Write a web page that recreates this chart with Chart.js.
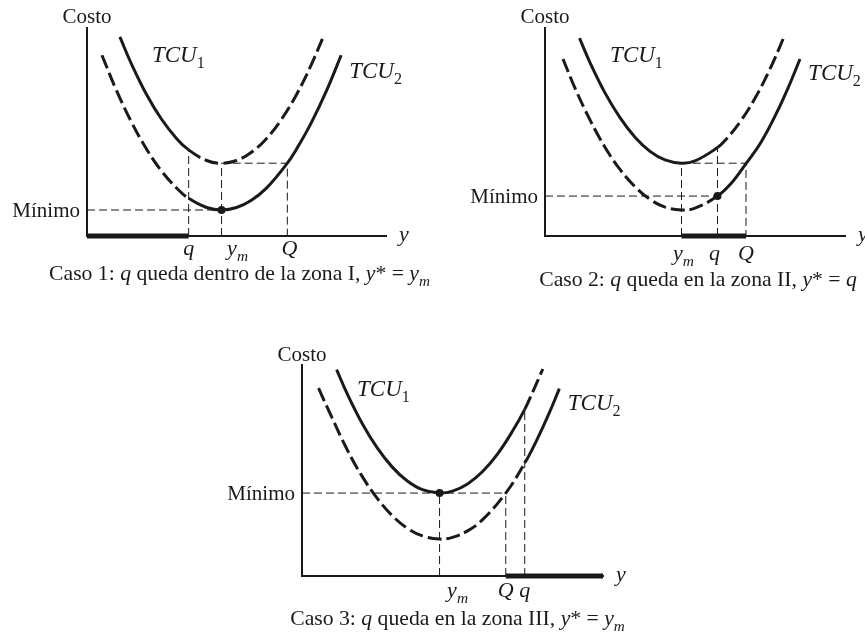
<!DOCTYPE html>
<html>
<head>
<meta charset="utf-8">
<script src="https://cdn.jsdelivr.net/npm/chart.js@4.4.0/dist/chart.umd.min.js"></script>
<style>
html, body { margin: 0; padding: 0; background: #fff; }
#lienzo { position: relative; width: 865px; height: 633px; overflow: hidden; background: #fff; }
#lienzo canvas { position: absolute; left: 0; top: 0; }
</style>
</head>
<body>
<div id="lienzo">
    <canvas id="caso1" width="865" height="633"></canvas>
    <canvas id="caso2" width="865" height="633"></canvas>
    <canvas id="caso3" width="865" height="633"></canvas>
</div>
<script>
// Caso 1: q dentro de la zona I
const caso1Tcu1X = [1.1, 1.5, 2.0, 2.5, 3.0, 3.4, 4.0, 4.5, 5.0, 5.5, 6.0, 6.5, 7.0, 7.5, 7.9];
const caso1Tcu1Y = [9.57, 8.23, 6.78, 5.6, 4.68, 4.14, 3.63, 3.5, 3.63, 4.03, 4.68, 5.6, 6.78, 8.23, 9.57];
const caso1Tcu2X = [0.5, 1.0, 1.5, 2.0, 2.5, 3.0, 3.4, 4.0, 4.5, 5.0, 5.5, 6.0, 6.7, 7.0, 7.5, 8.0, 8.5];
const caso1Tcu2Y = [8.69, 6.95, 5.44, 4.16, 3.11, 2.3, 1.81, 1.37, 1.25, 1.37, 1.72, 2.3, 3.5, 4.16, 5.44, 6.95, 8.69];
const caso1Marcas = [3.4, 4.5, 6.7];   // q, ym, Q
const caso1Minimo = 1.25;

// Caso 2: q en la zona II
const caso2Tcu1X = [1.15, 1.5, 2.0, 2.5, 3.0, 3.5, 4.0, 4.55, 5.0, 5.75, 6.0, 6.5, 7.0, 7.5, 7.95];
const caso2Tcu1Y = [9.51, 8.34, 6.88, 5.69, 4.75, 4.07, 3.66, 3.5, 3.61, 4.25, 4.59, 5.48, 6.62, 8.03, 9.51];
const caso2Tcu2X = [0.6, 1.0, 1.5, 2.0, 2.5, 3.0, 3.5, 4.0, 4.55, 5.0, 5.75, 6.2, 6.7, 7.2, 7.7, 8.1, 8.5];
const caso2Tcu2Y = [8.51, 7.11, 5.58, 4.27, 3.2, 2.37, 1.76, 1.39, 1.25, 1.34, 1.92, 2.52, 3.48, 4.51, 5.86, 7.11, 8.51];
const caso2Marcas = [5.75, 4.55, 6.7];  // q, ym, Q
const caso2Minimo = 1.92;

// Caso 3: q en la zona III
const caso3Tcu1X = [1.15, 1.5, 2.0, 2.5, 3.0, 3.5, 4.0, 4.57, 5.0, 5.5, 6.0, 6.5, 7.0, 7.4, 7.7, 8.0];
const caso3Tcu1Y = [9.78, 8.64, 7.23, 6.07, 5.16, 4.5, 4.09, 3.93, 4.02, 4.36, 4.95, 5.79, 6.88, 7.9, 8.83, 9.81];
const caso3Tcu2X = [0.55, 1.0, 1.5, 2.0, 2.5, 3.0, 3.5, 4.0, 4.57, 5.0, 5.5, 6.0, 6.77, 7.4, 7.8, 8.2, 8.55];
const caso3Tcu2Y = [8.9, 7.49, 5.99, 4.72, 3.68, 2.86, 2.26, 1.9, 1.75, 1.83, 2.14, 2.67, 3.93, 5.35, 6.44, 7.68, 8.88];
const caso3Marcas = [7.4, 4.57, 6.77];  // q, ym, Q
const caso3Minimo = 3.93;

const EJE_MAX = 10;
const TINTA = '#1a1a1a';
const FAMILIA = '"Liberation Serif", "DejaVu Serif", serif';
const RAYA_CURVA = [14, 5];
const RAYA_GUIA = [8, 4];

function fuente(estilo, size) {
    const sub = estilo.endsWith('s');
    const it = estilo.startsWith('i');
    return (it ? 'italic ' : '') + (sub ? size * 0.7 : size) + 'px ' + FAMILIA;
}

function escribir(ctx, trozos, x, y, align, size) {
    let total = 0;
    const anchos = trozos.map(t => {
        ctx.font = fuente(t[1], size);
        const w = ctx.measureText(t[0]).width;
        total += w;
        return w;
    });
    let cx = align === 'center' ? x - total / 2 : (align === 'right' ? x - total : x);
    ctx.textAlign = 'left';
    ctx.textBaseline = 'alphabetic';
    trozos.forEach((t, i) => {
        ctx.font = fuente(t[1], size);
        const dy = t[1].endsWith('s') ? size * 0.28 : 0;
        ctx.fillText(t[0], cx, y + dy);
        cx += anchos[i];
    });
}

function puntos(xs, ys) {
    return xs.map((x, i) => ({ x: x, y: ys[i] }));
}

function valorEn(xs, ys, x) {
    return ys[xs.indexOf(x)];
}

function crearPanel(id, p) {
    const [q, ym, Q] = p.marcas;
    const datasets = [];

    p.guias.forEach(g => {
        datasets.push({
            data: g.map(v => ({ x: v[0], y: v[1] })),
            showLine: true,
            borderColor: TINTA,
            borderWidth: 1,
            borderDash: RAYA_GUIA,
            pointRadius: 0,
            tension: 0,
            clip: false
        });
    });

    datasets.push({
        label: 'TCU1',
        data: puntos(p.tcu1X, p.tcu1Y),
        showLine: true,
        borderColor: TINTA,
        borderWidth: 3,
        pointRadius: 0,
        tension: 0.4,
        segment: {
            borderDash: c => (c.p0.parsed.x >= q - 1e-9 ? RAYA_CURVA : undefined)
        }
    });

    datasets.push({
        label: 'TCU2',
        data: puntos(p.tcu2X, p.tcu2Y),
        showLine: true,
        borderColor: TINTA,
        borderWidth: 3,
        pointRadius: 0,
        tension: 0.4,
        segment: {
            borderDash: c => (c.p1.parsed.x <= q + 1e-9 ? RAYA_CURVA : undefined)
        }
    });

    datasets.push({
        data: [{ x: p.barra[0], y: 0 }, { x: p.barra[1], y: 0 }],
        showLine: true,
        borderColor: TINTA,
        borderWidth: 5,
        pointRadius: 0,
        clip: false
    });

    datasets.push({
        data: [{ x: p.punto[0], y: p.punto[1] }],
        showLine: false,
        pointRadius: 4,
        pointBackgroundColor: TINTA,
        pointBorderWidth: 0,
        clip: false
    });

    const textos = {
        id: 'textos',
        afterDraw(chart) {
            const ctx = chart.ctx;
            const a = chart.chartArea;
            const sx = chart.scales.x;
            const sy = chart.scales.y;
            ctx.save();
            ctx.fillStyle = TINTA;
            escribir(ctx, [['Costo', 'n']], a.left, a.top - p.costoDy, 'center', 21);
            escribir(ctx, [['Mínimo', 'n']], a.left - 7, sy.getPixelForValue(p.minimo) + 7, 'right', 21);
            escribir(ctx, [['y', 'i']], a.right + 13, a.bottom + 5, 'left', 22);
            p.etiquetas.forEach(e => {
                escribir(ctx, e[1], sx.getPixelForValue(e[0]) + e[2], a.bottom + p.marcaDy, 'center', 22);
            });
            escribir(ctx, [['TCU', 'i'], ['1', 'ns']], sx.getPixelForValue(p.tcu1Txt[0]), sy.getPixelForValue(p.tcu1Txt[1]), 'left', 23);
            escribir(ctx, [['TCU', 'i'], ['2', 'ns']], sx.getPixelForValue(p.tcu2Txt[0]), sy.getPixelForValue(p.tcu2Txt[1]), 'left', 23);
            escribir(ctx, p.pie, (a.left + a.right) / 2 + p.pieDx, a.bottom + p.pieDy, 'center', 21.7);
            ctx.restore();
        }
    };

    const eje = {
        type: 'linear',
        min: 0,
        max: EJE_MAX,
        grid: { display: false, drawTicks: false },
        ticks: { display: false },
        border: { display: true, color: TINTA, width: 2 }
    };

    new Chart(document.getElementById(id), {
        type: 'scatter',
        data: { datasets: datasets },
        options: {
            responsive: false,
            animation: false,
            events: [],
            layout: {
                autoPadding: false,
                padding: { left: p.area[0], top: p.area[1], right: 865 - p.area[2], bottom: 633 - p.area[3] }
            },
            plugins: { legend: { display: false }, tooltip: { enabled: false } },
            scales: { x: Object.assign({}, eje), y: Object.assign({}, eje) }
        },
        plugins: [textos]
    });
}

const ym_ = [['y', 'i'], ['m', 'is']];

// Caso 1
(function () {
    const [q, ym, Q] = caso1Marcas;
    const nivel = valorEn(caso1Tcu1X, caso1Tcu1Y, ym);
    crearPanel('caso1', {
        area: [87, 28, 386, 236],
        tcu1X: caso1Tcu1X, tcu1Y: caso1Tcu1Y, tcu2X: caso1Tcu2X, tcu2Y: caso1Tcu2Y,
        marcas: caso1Marcas,
        minimo: caso1Minimo,
        guias: [
            [[q, 0], [q, valorEn(caso1Tcu1X, caso1Tcu1Y, q)]],
            [[ym, 0], [ym, nivel], [Q, nivel], [Q, 0]],
            [[0, caso1Minimo], [ym, caso1Minimo]]
        ],
        barra: [0, q],
        punto: [ym, caso1Minimo],
        etiquetas: [[q, [['q', 'i']], 0], [ym, ym_, 16], [Q, [['Q', 'i']], 2]],
        tcu1Txt: [2.17, 8.37],
        tcu2Txt: [8.77, 7.6],
        pie: [['Caso 1: ', 'n'], ['q', 'i'], [' queda dentro de la zona I, ', 'n'], ['y', 'i'], ['* = ', 'n'], ['y', 'i'], ['m', 'is']],
        costoDy: 5, marcaDy: 19, pieDx: 3, pieDy: 44
    });
})();

// Caso 2
(function () {
    const [q, ym, Q] = caso2Marcas;
    const nivel = valorEn(caso2Tcu1X, caso2Tcu1Y, ym);
    crearPanel('caso2', {
        area: [545, 28, 845, 236],
        tcu1X: caso2Tcu1X, tcu1Y: caso2Tcu1Y, tcu2X: caso2Tcu2X, tcu2Y: caso2Tcu2Y,
        marcas: caso2Marcas,
        minimo: caso2Minimo,
        guias: [
            [[ym, 0], [ym, nivel], [Q, nivel], [Q, 0]],
            [[q, 0], [q, valorEn(caso2Tcu1X, caso2Tcu1Y, q)]],
            [[0, caso2Minimo], [q, caso2Minimo]]
        ],
        barra: [ym, Q],
        punto: [q, caso2Minimo],
        etiquetas: [[ym, ym_, 2], [q, [['q', 'i']], -3], [Q, [['Q', 'i']], 0]],
        tcu1Txt: [2.17, 8.37],
        tcu2Txt: [8.77, 7.5],
        pie: [['Caso 2: ', 'n'], ['q', 'i'], [' queda en la zona II, ', 'n'], ['y', 'i'], ['* = ', 'n'], ['q', 'i']],
        costoDy: 5, marcaDy: 24, pieDx: 3, pieDy: 50
    });
})();

// Caso 3
(function () {
    const [q, ym, Q] = caso3Marcas;
    crearPanel('caso3', {
        area: [302, 365, 603, 576],
        tcu1X: caso3Tcu1X, tcu1Y: caso3Tcu1Y, tcu2X: caso3Tcu2X, tcu2Y: caso3Tcu2Y,
        marcas: caso3Marcas,
        minimo: caso3Minimo,
        guias: [
            [[0, caso3Minimo], [Q, caso3Minimo]],
            [[ym, 0], [ym, caso3Minimo]],
            [[Q, 0], [Q, caso3Minimo]],
            [[q, 0], [q, valorEn(caso3Tcu1X, caso3Tcu1Y, q)]]
        ],
        barra: [Q, EJE_MAX],
        punto: [ym, caso3Minimo],
        etiquetas: [[ym, ym_, 18], [Q, [['Q', 'i']], 0], [q, [['q', 'i']], 0]],
        tcu1Txt: [1.83, 8.53],
        tcu2Txt: [8.83, 7.87],
        pie: [['Caso 3: ', 'n'], ['q', 'i'], [' queda en la zona III, ', 'n'], ['y', 'i'], ['* = ', 'n'], ['y', 'i'], ['m', 'is']],
        costoDy: 4, marcaDy: 21, pieDx: 5, pieDy: 49
    });
})();
</script>
</body>
</html>
